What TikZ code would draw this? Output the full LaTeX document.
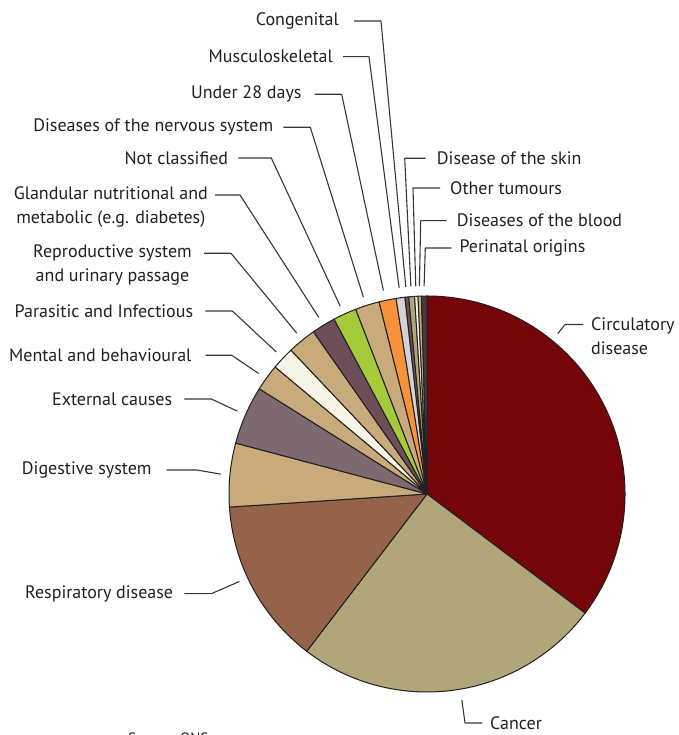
\documentclass[tikz,border=0pt]{standalone}
\usepackage{fontspec}
\setmainfont{PT Sans}
\definecolor{circred}{RGB}{117,5,8}
\definecolor{khaki}{RGB}{177,166,122}
\definecolor{respbrown}{RGB}{148,99,74}
\definecolor{tan}{RGB}{200,170,123}
\definecolor{extmauve}{RGB}{125,106,113}
\definecolor{cream}{RGB}{247,244,232}
\definecolor{darkmauve}{RGB}{110,79,89}
\definecolor{limegreen}{RGB}{166,203,58}
\definecolor{orange}{RGB}{247,146,58}
\definecolor{lightgrey}{RGB}{209,211,212}
\definecolor{perimauve}{RGB}{74,56,62}
\definecolor{inkgrey}{RGB}{35,31,32}

\begin{document}
\begin{tikzpicture}[x=1pt, y=1pt, line join=bevel]
  \tikzstyle{slice}=[draw=inkgrey, line width=1pt]
  \tikzstyle{lbl}=[font=\fontsize{18}{24}\selectfont, text=inkgrey, inner sep=0pt]
  \tikzstyle{leader}=[draw=inkgrey!90, line width=1.1pt]

  \useasboundingbox (0,0) rectangle (678,735);
  \coordinate (c) at (427,241);

  % slices, counter clockwise from start to end angle
  \foreach \a/\b/\col in {-37/90/circred, -127.4/-37/khaki, 183.8/232.6/respbrown,
      165.1/183.8/tan, 147.9/165.1/extmauve, 140.1/147.9/tan, 133.4/140.1/cream,
      125/133.4/tan, 118/125/darkmauve, 111.1/118/limegreen, 104/111.1/tan,
      99/104/orange, 96.4/99/lightgrey, 95.3/96.4/darkmauve, 93.6/95.3/khaki,
      92.6/93.6/cream, 91.6/92.6/tan, 90/91.6/perimauve}
    \filldraw[slice, fill=\col] (c) -- ([shift={(\a:198)}]c)
      arc[start angle=\a, end angle=\b, radius=198] -- cycle;

  % leader ends, just outside the rim
  \coordinate (circ-end) at ([shift={(50.8:207)}]c);
  \coordinate (canc-end) at ([shift={(279.6:209)}]c);
  \coordinate (resp-end) at ([shift={(205:207)}]c);
  \coordinate (dig-end) at ([shift={(174.5:207)}]c);
  \coordinate (ext-end) at ([shift={(156.4:207)}]c);
  \coordinate (ment-end) at ([shift={(144.4:207)}]c);
  \coordinate (para-end) at ([shift={(136.7:207)}]c);
  \coordinate (repro-end) at ([shift={(129:207)}]c);
  \coordinate (gland-end) at ([shift={(121.5:207)}]c);
  \coordinate (notc-end) at ([shift={(114.8:207)}]c);
  \coordinate (nerv-end) at ([shift={(107.9:207)}]c);
  \coordinate (u28-end) at ([shift={(102.1:208)}]c);
  \coordinate (musc-end) at ([shift={(97.7:208)}]c);
  \coordinate (cong-end) at ([shift={(95.85:208)}]c);
  \coordinate (skin-end) at ([shift={(94.45:208)}]c);
  \coordinate (tum-end) at ([shift={(93.1:208)}]c);
  \coordinate (blood-end) at ([shift={(92.1:208)}]c);
  \coordinate (peri-end) at ([shift={(90.8:208)}]c);

  % labels
  \node[lbl, anchor=west, align=left] (circ) at (591,398.5) {Circulatory\\disease};
  \node[lbl, anchor=west] (canc) at (490,12) {Cancer};
  \node[lbl, anchor=east] (resp) at (173.3,141.3) {Respiratory disease};
  \node[lbl, anchor=east] (dig) at (151.7,265) {Digestive system};
  \node[lbl, anchor=east] (ext) at (172.3,336) {External causes};
  \node[lbl, anchor=east] (ment) at (191.7,379.7) {Mental and behavioural};
  \node[lbl, anchor=east] (para) at (193.3,424) {Parasitic and Infectious};
  \node[lbl, anchor=east, align=center] (repro) at (192,470) {Reproductive system\\and urinary passage};
  \node[lbl, anchor=east, align=center] (gland) at (208,527.5) {Glandular nutritional and\\metabolic (e.g. diabetes)};
  \node[lbl, anchor=east] (notc) at (228.3,577) {Not classified};
  \node[lbl, anchor=east] (nerv) at (273.3,607.7) {Diseases of the nervous system};
  \node[lbl, anchor=east] (u28) at (301.7,640.7) {Under 28 days};
  \node[lbl, anchor=east] (musc) at (333,678.3) {Musculoskeletal};
  \node[lbl, anchor=east] (cong) at (339,714) {Congenital};
  \node[lbl, anchor=west] (skin) at (436.7,576.7) {Disease of the skin};
  \node[lbl, anchor=west] (tum) at (450,547) {Other tumours};
  \node[lbl, anchor=west] (blood) at (456.7,514.3) {Diseases of the blood};
  \node[lbl, anchor=west] (peri) at (459.3,487) {Perinatal origins};
  \node[lbl, anchor=north west, font=\fontsize{15}{18}\selectfont] (src) at (128,2) {Source: ONS};

  % leaders
  \draw[leader] (circ-end) -- ([shift={(-26,12)}]circ.west) -- ([shift={(-8,12)}]circ.west);
  \draw[leader] (canc-end) -- ([xshift=-25]canc.west) -- ([xshift=-8]canc.west);
  \draw[leader] ([xshift=11]resp.east) -- ++(27,0) -- (resp-end);
  \draw[leader] ([xshift=15]dig.east) -- ++(30,0) -- (dig-end);
  \draw[leader] ([xshift=12]ext.east) -- ++(27,0) -- (ext-end);
  \draw[leader] ([xshift=14]ment.east) -- ++(26,0) -- (ment-end);
  \draw[leader] ([xshift=12]para.east) -- ++(27,0) -- (para-end);
  \draw[leader] ([shift={(12,11.7)}]repro.east) -- ++(27,0) -- (repro-end);
  \draw[leader] ([shift={(7,12.5)}]gland.east) -- ++(25,0) -- (gland-end);
  \draw[leader] ([xshift=10]notc.east) -- ++(33,0) -- (notc-end);
  \draw[leader] ([xshift=10]nerv.east) -- ++(27,0) -- (nerv-end);
  \draw[leader] ([xshift=13]u28.east) -- ++(27,0) -- (u28-end);
  \draw[leader] ([xshift=10]musc.east) -- ++(26,0) -- (musc-end);
  \draw[leader] ([xshift=15]cong.east) -- ++(27,0) -- (cong-end);
  \draw[leader] ([xshift=-11]skin.west) -- ++(-21,0) -- (skin-end);
  \draw[leader] ([xshift=-10]tum.west) -- ++(-27,0) -- (tum-end);
  \draw[leader] ([xshift=-10]blood.west) -- ++(-26,0) -- (blood-end);
  \draw[leader] ([xshift=-8]peri.west) -- ++(-26,0) -- (peri-end);
\end{tikzpicture}
\end{document}
